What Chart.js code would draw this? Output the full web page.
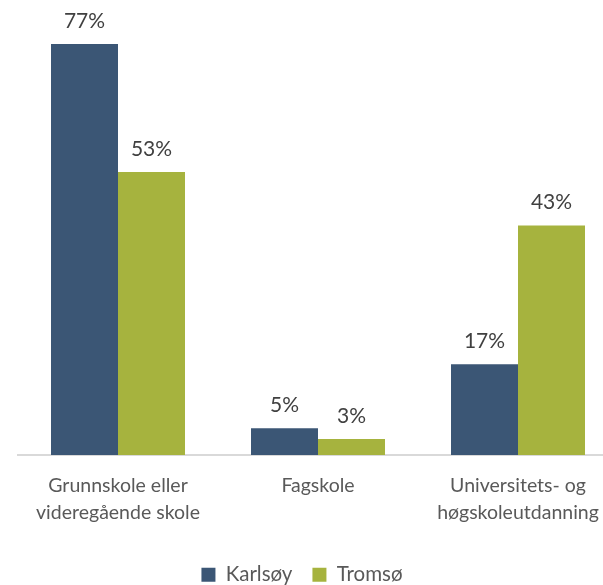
<!DOCTYPE html>
<html>
<head>
<meta charset="utf-8">
<script src="https://cdn.jsdelivr.net/npm/chart.js@4/dist/chart.umd.min.js"></script>
<style>
html, body { margin: 0; padding: 0; background: #fff; overflow: hidden; }
#wrap { width: 603px; height: 585px; overflow: hidden; }
</style>
</head>
<body>
<div id="wrap"><canvas id="myChart" width="620" height="585"></canvas></div>
<script>
const categories = [
  ["Grunnskole eller", "videregående skole"],
  "Fagskole",
  ["Universitets- og", "høgskoleutdanning"]
];
const seriesNames = ["Karlsøy", "Tromsø"];
const karlsoy = [77, 5, 17];
const tromso = [53, 3, 43];

const barLabels = {
  id: "barLabels",
  afterDatasetsDraw(chart) {
    const ctx = chart.ctx;
    ctx.save();
    ctx.font = "21px Lato";
    ctx.fillStyle = "#404040";
    ctx.textAlign = "center";
    ctx.textBaseline = "alphabetic";
    chart.data.datasets.forEach((ds, i) => {
      chart.getDatasetMeta(i).data.forEach((bar, j) => {
        ctx.fillText(ds.data[j] + "%", bar.x, bar.y - 16);
      });
    });
    ctx.restore();
  }
};

// legend sits a bit left of the canvas centre in the original
const legendShift = {
  id: "legendShift",
  afterLayout(chart) {
    chart.legend.left -= 16;
    chart.legend.right -= 16;
  }
};

const chart = new Chart(document.getElementById("myChart").getContext("2d"), {
  type: "bar",
  data: {
    labels: categories,
    datasets: [
      { label: seriesNames[0], data: karlsoy, backgroundColor: "#3B5675" },
      { label: seriesNames[1], data: tromso, backgroundColor: "#A6B33E" }
    ]
  },
  options: {
    responsive: false,
    animation: false,
    devicePixelRatio: 1,
    categoryPercentage: 0.67,
    barPercentage: 1,
    layout: { padding: { top: 28, left: 18, right: 2, bottom: -10 } },
    scales: {
      x: {
        grid: { display: false, drawTicks: false },
        border: { display: true, color: "#D9D9D9", width: 2 },
        ticks: {
          color: "#595959",
          padding: 18,
          font: { family: "Lato", size: 19.5, lineHeight: 1.35 },
          maxRotation: 0
        },
        afterFit: (s) => { s.height = 89.5; }
      },
      y: { display: false, min: 0, max: 80 }
    },
    plugins: {
      legend: {
        position: "bottom",
        labels: {
          color: "#595959",
          boxWidth: 14,
          boxHeight: 14,
          padding: 20,
          font: { family: "Lato", size: 20.5 }
        }
      },
      tooltip: { enabled: false }
    }
  },
  plugins: [barLabels, legendShift]
});
</script>
</body>
</html>
